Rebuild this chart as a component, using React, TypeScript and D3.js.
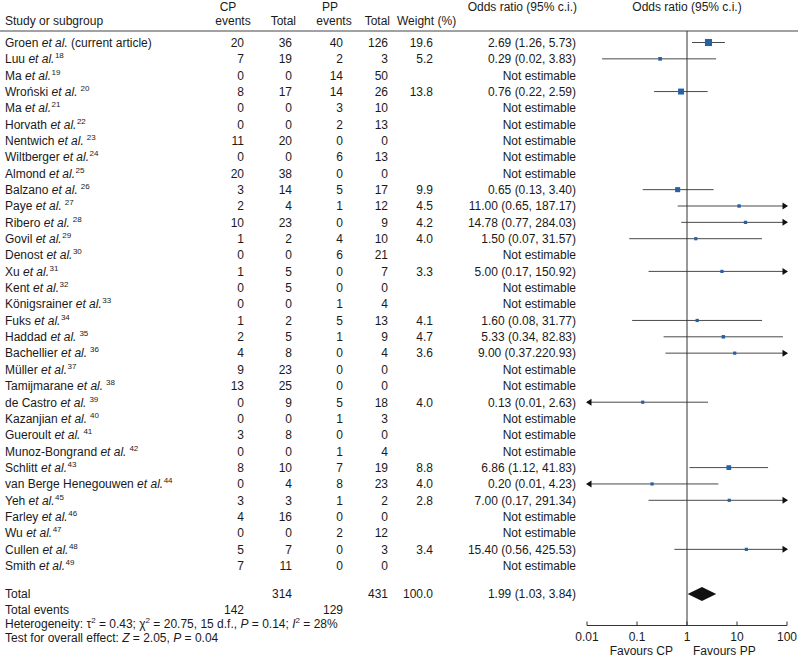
import React from "react";
import * as d3 from "d3";

const authors = ["Groen","Luu","Ma","Wroński","Ma","Horvath","Nentwich","Wiltberger","Almond","Balzano","Paye","Ribero","Govil","Denost","Xu","Kent","Königsrainer","Fuks","Haddad","Bachellier","Müller","Tamijmarane","de Castro","Kazanjian","Gueroult","Munoz-Bongrand","Schlitt","van Berge Henegouwen","Yeh","Farley","Wu","Cullen","Smith"];
const refs = ["",  "18","19","20","21","22","23","24","25","26","27","28","29","30","31","32","33","34","35","36","37","38","39","40","41","42","43","44","45","46","47","48","49"];
const refGap = [false,false,false,true,false,false,true,false,false,true,true,true,false,false,false,false,false,false,true,true,false,true,true,true,true,true,false,false,false,false,false,false,false];
const cpEvents = [20,7,0,8,0,0,11,0,20,3,2,10,1,0,1,0,0,1,2,4,9,13,0,0,3,0,8,0,3,4,0,5,7];
const cpTotal = [36,19,0,17,0,0,20,0,38,14,4,23,2,0,5,5,0,2,5,8,23,25,9,0,8,0,10,4,3,16,0,7,11];
const ppEvents = [40,2,14,14,3,2,0,6,0,5,1,0,4,6,0,0,1,5,1,0,0,0,5,1,0,1,7,8,1,0,2,0,0];
const ppTotal = [126,3,50,26,10,13,0,13,0,17,12,9,10,21,7,0,4,13,9,4,0,0,18,3,0,4,19,23,2,0,12,3,0];
const weights = [19.6,5.2,null,13.8,null,null,null,null,null,9.9,4.5,4.2,4.0,null,3.3,null,null,4.1,4.7,3.6,null,null,4.0,null,null,null,8.8,4.0,2.8,null,null,3.4,null];
const orEst = [2.69,0.29,null,0.76,null,null,null,null,null,0.65,11.0,14.78,1.5,null,5.0,null,null,1.6,5.33,9.0,null,null,0.13,null,null,null,6.86,0.2,7.0,null,null,15.4,null];
const orLo = [1.26,0.02,null,0.22,null,null,null,null,null,0.13,0.65,0.77,0.07,null,0.17,null,null,0.08,0.34,0.37,null,null,0.0099,null,null,null,1.12,0.0099,0.17,null,null,0.56,null];
const orHi = [5.73,3.83,null,2.59,null,null,null,null,null,3.4,187.17,284.03,31.57,null,150.92,null,null,31.77,82.83,220.93,null,null,2.63,null,null,null,41.83,4.23,291.34,null,null,425.53,null];
const labelOverride: Record<number, string> = { 19: "9.00 (0.37.220.93)" };

const totalCP = 314;
const totalPP = 431;
const totalWeight = "100.0";
const totalOR = [1.99, 1.03, 3.84];
const totalEventsCP = 142;
const totalEventsPP = 129;
const axisTicks = [0.01, 0.1, 1, 10, 100];
const axisLabels = ["0.01", "0.1", "1", "10", "100"];

const FONT = "'Liberation Sans', Arial, Helvetica, sans-serif";

export default function App() {
  const W = 798, H = 662;
  const x = d3.scaleLog().domain([0.01, 100]).range([587, 787]);
  const row0 = 42.5, step = 16.35;
  const y = (i: number) => row0 + i * step;
  const n = authors.length;
  const yTotal = y(n - 1) + 28.3;
  const yTE = yTotal + 15.5;
  const yHet = yTE + 14;
  const yTest = yHet + 14;
  const axisY = yHet + 2;
  const fs = 12;
  const sup = 8;
  const bo = 4.3;
  const fmt = (v: number) => v.toFixed(2);
  const blue = "#2462a5";
  const lineCol = "#4a4a4a";
  const textCol = "#1a1a1a";

  const cols = [244, 292, 343, 388];
  const LX = 5;

  return (
    <svg width={W} height={H} style={{ position: "absolute", left: 0, top: 0, background: "#fff" }} fontFamily={FONT} fontSize={fs} fill={textCol}>
      <rect width={W} height={H} fill="#fff" />
      {/* headers */}
      <text x={LX} y={25}>Study or subgroup</text>
      <text x={228} y={10.5} textAnchor="middle">CP</text>
      <text x={233} y={25} textAnchor="middle">events</text>
      <text x={cols[1] + 4} y={25} textAnchor="end">Total</text>
      <text x={330} y={10.5} textAnchor="middle">PP</text>
      <text x={334} y={25} textAnchor="middle">events</text>
      <text x={cols[3] + 2} y={25} textAnchor="end">Total</text>
      <text x={397} y={25}>Weight (%)</text>
      <text x={577} y={10.5} textAnchor="end">Odds ratio (95% c.i.)</text>
      <text x={x(1)} y={10.5} textAnchor="middle">Odds ratio (95% c.i.)</text>
      <line x1={0} x2={W} y1={31} y2={31} stroke="#444" strokeWidth={1} />

      {/* rows */}
      {authors.map((a, i) => {
        const yy = y(i) + bo;
        const w = weights[i];
        const est = orEst[i];
        const lo = orLo[i];
        const hi = orHi[i];
        const label = labelOverride[i] ?? (est != null ? `${fmt(est)} (${fmt(lo as number)}, ${fmt(hi as number)})` : "Not estimable");
        return (
          <g key={i}>
            <text x={LX} y={yy}>
              <tspan>{a} </tspan>
              <tspan fontStyle="italic">et al.</tspan>
              {refs[i] ? (
                <tspan fontSize={sup} dx={refGap[i] ? 3 : 0.5} dy={-5}>{refs[i]}</tspan>
              ) : (
                <tspan> (current article)</tspan>
              )}
            </text>
            <text x={cols[0]} y={yy} textAnchor="end">{cpEvents[i]}</text>
            <text x={cols[1]} y={yy} textAnchor="end">{cpTotal[i]}</text>
            <text x={cols[2]} y={yy} textAnchor="end">{ppEvents[i]}</text>
            <text x={cols[3]} y={yy} textAnchor="end">{ppTotal[i]}</text>
            {w != null && <text x={433} y={yy} textAnchor="end">{w.toFixed(1)}</text>}
            <text x={576} y={yy} textAnchor="end">{label}</text>
            {est != null && lo != null && hi != null && (() => {
              const x1 = x(Math.max(lo, 0.01));
              const x2 = x(Math.min(hi, 100));
              const s = Math.max(3.2, 1.6 * Math.sqrt(w as number));
              const cy = y(i);
              return (
                <g>
                  <line x1={x1} x2={x2} y1={cy} y2={cy} stroke={lineCol} strokeWidth={1} />
                  {hi > 100 && <path d={`M${x(100) + 1},${cy} l-5.5,-3.5 l0,7 Z`} fill="#111" />}
                  {lo <= 0.01 && <path d={`M${x(0.01) - 1},${cy} l5.5,-3.5 l0,7 Z`} fill="#111" />}
                  <rect x={x(est) - s / 2} y={cy - s / 2} width={s} height={s} fill={blue} />
                </g>
              );
            })()}
          </g>
        );
      })}

      {/* totals */}
      <text x={LX} y={yTotal + bo}>Total</text>
      <text x={cols[1]} y={yTotal + bo} textAnchor="end">{totalCP}</text>
      <text x={cols[3]} y={yTotal + bo} textAnchor="end">{totalPP}</text>
      <text x={433} y={yTotal + bo} textAnchor="end">{totalWeight}</text>
      <text x={576} y={yTotal + bo} textAnchor="end">{`${fmt(totalOR[0])} (${fmt(totalOR[1])}, ${fmt(totalOR[2])})`}</text>
      <path d={`M${x(totalOR[1])},${yTotal} L${x(totalOR[0])},${yTotal - 7} L${x(totalOR[2])},${yTotal} L${x(totalOR[0])},${yTotal + 7} Z`} fill="#111" />
      <text x={LX} y={yTE + bo}>Total events</text>
      <text x={cols[0]} y={yTE + bo} textAnchor="end">{totalEventsCP}</text>
      <text x={cols[2]} y={yTE + bo} textAnchor="end">{totalEventsPP}</text>
      <text x={LX} y={yHet + bo}>
        <tspan>Heterogeneity: τ</tspan><tspan fontSize={sup} dy={-5}>2</tspan>
        <tspan dy={5}> = 0.43; χ</tspan><tspan fontSize={sup} dy={-5}>2</tspan>
        <tspan dy={5}> = 20.75, 15 d.f., </tspan><tspan fontStyle="italic">P</tspan>
        <tspan> = 0.14; </tspan><tspan fontStyle="italic">I</tspan><tspan fontSize={sup} dy={-5}>2</tspan>
        <tspan dy={5}> = 28%</tspan>
      </text>
      <text x={LX} y={yTest + bo}>
        <tspan>Test for overall effect: </tspan><tspan fontStyle="italic">Z</tspan>
        <tspan> = 2.05, </tspan><tspan fontStyle="italic">P</tspan><tspan> = 0.04</tspan>
      </text>

      {/* reference line and axis */}
      <line x1={x(1)} x2={x(1)} y1={31} y2={axisY} stroke="#333" strokeWidth={1} />
      <line x1={x(0.01)} x2={x(100)} y1={axisY} y2={axisY} stroke="#333" strokeWidth={1} />
      {axisTicks.map((t, k) => (
        <g key={k}>
          <line x1={x(t)} x2={x(t)} y1={axisY} y2={axisY - 4} stroke="#333" strokeWidth={1} />
          <text x={x(t)} y={axisY + 15} textAnchor="middle">{axisLabels[k]}</text>
        </g>
      ))}
      <text x={x(1) - 14} y={axisY + 29.5} textAnchor="end">Favours CP</text>
      <text x={x(1) + 6} y={axisY + 29.5}>Favours PP</text>
    </svg>
  );
}
